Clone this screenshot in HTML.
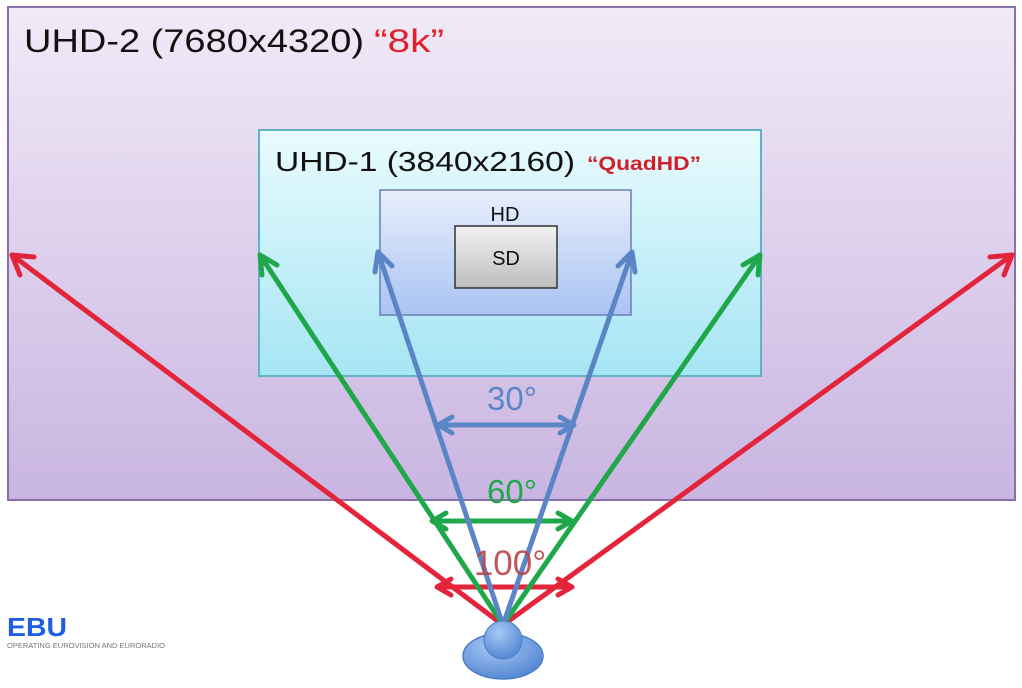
<!DOCTYPE html>
<html><head><style>
body{margin:0;background:#fff;width:1022px;height:683px;overflow:hidden;font-family:"Liberation Sans",sans-serif}
</style></head><body>
<svg width="1022" height="683" viewBox="0 0 1022 683" xmlns="http://www.w3.org/2000/svg">
<defs>
<linearGradient id="g1" x1="0" y1="0" x2="0" y2="1"><stop offset="0" stop-color="#f1eaf7"/><stop offset="1" stop-color="#c9b5e1"/></linearGradient>
<linearGradient id="g2" x1="0" y1="0" x2="0" y2="1"><stop offset="0" stop-color="#e9fbfe"/><stop offset="1" stop-color="#a6e5f4"/></linearGradient>
<linearGradient id="g3" x1="0" y1="0" x2="0" y2="1"><stop offset="0" stop-color="#e8effc"/><stop offset="1" stop-color="#a9c3f3"/></linearGradient>
<linearGradient id="g4" x1="0" y1="0" x2="0" y2="1"><stop offset="0" stop-color="#f2f2f2"/><stop offset="1" stop-color="#bdbdbd"/></linearGradient>
<radialGradient id="g5" cx="0.4" cy="0.3" r="0.8"><stop offset="0" stop-color="#a8c8f4"/><stop offset="1" stop-color="#4a7fd0"/></radialGradient>
</defs>
<rect x="8" y="7" width="1007" height="493" fill="url(#g1)" stroke="#8a70aa" stroke-width="2"/>
<text x="24" y="52" font-size="32" fill="#111" textLength="340" lengthAdjust="spacingAndGlyphs">UHD-2 (7680x4320)</text>
<text x="374" y="52" font-size="32" fill="#e0202a" textLength="70" lengthAdjust="spacingAndGlyphs">“8k”</text>
<rect x="259" y="130" width="502" height="246" fill="url(#g2)" stroke="#5fb3c6" stroke-width="2"/>
<text x="275" y="171" font-size="28" fill="#111" textLength="300" lengthAdjust="spacingAndGlyphs">UHD-1 (3840x2160)</text>
<text x="587" y="170" font-size="19" font-weight="bold" fill="#d0202a" textLength="114" lengthAdjust="spacingAndGlyphs">“QuadHD”</text>
<rect x="380" y="190" width="251" height="125" fill="url(#g3)" stroke="#6a7fb0" stroke-width="1.5"/>
<text x="505" y="221" font-size="20" fill="#111" text-anchor="middle">HD</text>
<rect x="455" y="226" width="102" height="62" fill="url(#g4)" stroke="#333" stroke-width="1.5"/>
<text x="506" y="265" font-size="20" fill="#111" text-anchor="middle">SD</text>
<g stroke-width="5" fill="none" stroke-linecap="round" stroke-linejoin="round">
<g stroke="#e3243a">
<path d="M503 625 L12 255 M503 625 L1012 255"/>
<path d="M12 255 l8 20 M12 255 l22 2 M1012 255 l-8 20 M1012 255 l-22 2"/>
<path d="M437 587 L572 587 M437 587 l14 -8 M437 587 l14 8 M572 587 l-14 -8 M572 587 l-14 8"/>
</g>
<g stroke="#1fa84a">
<path d="M503 625 L260 255 M503 625 L760 255"/>
<path d="M260 255 l2 20 M260 255 l17 10 M760 255 l-2 20 M760 255 l-17 10"/>
<path d="M432 521 L572 521 M432 521 l14 -8 M432 521 l14 8 M572 521 l-14 -8 M572 521 l-14 8"/>
</g>
<g stroke="#5b85c7">
<path d="M503 625 L378 252 M503 625 L632 252"/>
<path d="M378 252 l-3 20 M378 252 l14 14 M632 252 l3 20 M632 252 l-14 14"/>
<path d="M438 425 L574 425 M438 425 l14 -8 M438 425 l14 8 M574 425 l-14 -8 M574 425 l-14 8"/>
</g>
</g>
<text x="512" y="410" font-size="33" fill="#5b85c7" text-anchor="middle">30°</text>
<text x="512" y="503" font-size="33" fill="#1fa84a" text-anchor="middle">60°</text>
<text x="510" y="575" font-size="35" fill="#b8454a" text-anchor="middle" opacity="0.9">100°</text>
<ellipse cx="503" cy="656" rx="40" ry="23" fill="url(#g5)" stroke="#4a7fc8" stroke-width="1.5"/>
<circle cx="503" cy="640" r="19" fill="url(#g5)" stroke="#4a7fc8" stroke-width="1"/>
<text x="7" y="636" font-size="26" font-weight="bold" fill="#1e5ee6" textLength="60" lengthAdjust="spacingAndGlyphs">EBU</text>
<text x="7" y="648" font-size="7" fill="#777" textLength="158" lengthAdjust="spacingAndGlyphs">OPERATING EUROVISION AND EURORADIO</text>
</svg>
</body></html>
